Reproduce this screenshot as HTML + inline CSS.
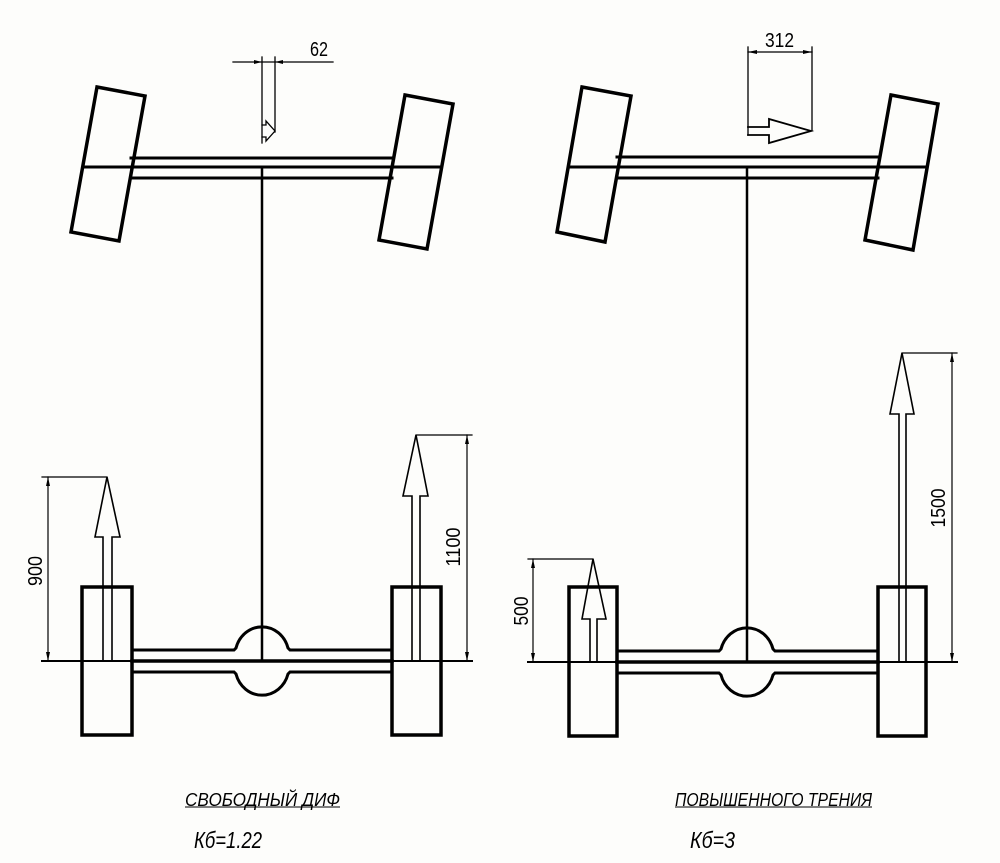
<!DOCTYPE html>
<html><head><meta charset="utf-8"><style>
html,body{margin:0;padding:0;background:#fdfdfb;}
svg{display:block;}
text{font-family:"Liberation Sans",sans-serif;fill:#000;}
</style></head><body>
<svg width="1000" height="863" viewBox="0 0 1000 863" xmlns="http://www.w3.org/2000/svg">
<rect width="1000" height="863" fill="#fdfdfb"/>
<g stroke="#000" fill="none" stroke-linecap="square">
<polygon points="97,87 145,96 119,241 71,232" stroke-width="3.5"/>
<polygon points="405,95 453,104 427,249 379,240" stroke-width="3.5"/>
<line x1="131" y1="158" x2="392" y2="158" stroke-width="3"/>
<line x1="83" y1="167" x2="440" y2="167" stroke-width="3"/>
<line x1="131" y1="178" x2="392" y2="178" stroke-width="3"/>
<line x1="262" y1="167" x2="262" y2="661" stroke-width="2.5"/>
<g stroke-width="1.3">
<line x1="262" y1="57" x2="262" y2="143"/>
<line x1="275" y1="57" x2="275" y2="132"/>
<line x1="233" y1="62" x2="333" y2="62"/>
<polyline points="262,125 266,125 266,121 275,131 266,141 266,137 262,137"/>
</g>
<polygon points="262,62 254,60 254,64" fill="#000" stroke="none"/>
<polygon points="275,62 283,60 283,64" fill="#000" stroke="none"/>
<rect x="82" y="587" width="50" height="148" stroke-width="3.5"/>
<rect x="392" y="587" width="49" height="148" stroke-width="3.5"/>
<path d="M132,650 H234 L236,648 A27,29 0 0 1 288,648 L290,650 H392" stroke-width="3"/>
<path d="M132,672 H234 L236,674 A27,29 0 0 0 288,674 L290,672 H392" stroke-width="3"/>
<line x1="42" y1="661" x2="472" y2="661" stroke-width="2"/>
<line x1="132" y1="661" x2="392" y2="661" stroke-width="3.5"/>
<g stroke-width="1.6">
<polyline points="103,661 103,537 95,537 107,477 120,537 112,537 112,661"/>
<polyline points="412,661 412,496 403,496 416,435 428,496 420,496 420,661"/>
</g>
<g stroke-width="1.2">
<line x1="42" y1="477" x2="107" y2="477"/>
<line x1="48" y1="477" x2="48" y2="661"/>
<line x1="416" y1="435" x2="472" y2="435"/>
<line x1="467" y1="435" x2="467" y2="661"/>
</g>
<polygon points="582,87 631,96 605,242 557,232" stroke-width="3.5"/>
<polygon points="891,95 938,104 913,250 865,240" stroke-width="3.5"/>
<line x1="617" y1="157" x2="878" y2="157" stroke-width="3"/>
<line x1="569" y1="167" x2="927" y2="167" stroke-width="3"/>
<line x1="617" y1="178" x2="878" y2="178" stroke-width="3"/>
<line x1="747" y1="167" x2="747" y2="662" stroke-width="2.5"/>
<g stroke-width="1.3">
<line x1="748" y1="47" x2="748" y2="135"/>
<line x1="812" y1="47" x2="812" y2="130"/>
<line x1="748" y1="52" x2="812" y2="52"/>
</g>
<polyline points="748,127 769,127 769,119 811,131 769,143 769,135 748,135" stroke-width="1.8"/>
<polygon points="748,52 757,50 757,54" fill="#000" stroke="none"/>
<polygon points="812,52 803,50 803,54" fill="#000" stroke="none"/>
<rect x="569" y="587" width="48" height="149" stroke-width="3.5"/>
<rect x="878" y="587" width="48" height="149" stroke-width="3.5"/>
<path d="M617,651 H719 L721,649 A27,29 0 0 1 773,649 L775,651 H878" stroke-width="3"/>
<path d="M617,673 H719 L721,675 A27,29 0 0 0 773,675 L775,673 H878" stroke-width="3"/>
<line x1="528" y1="662" x2="957" y2="662" stroke-width="2"/>
<line x1="617" y1="662" x2="878" y2="662" stroke-width="3.5"/>
<g stroke-width="1.6">
<polyline points="590,662 590,619 582,619 593,559 606,619 597,619 597,662"/>
<polyline points="899,662 899,414 890,414 902,353 914,414 906,414 906,662"/>
</g>
<g stroke-width="1.2">
<line x1="528" y1="559" x2="593" y2="559"/>
<line x1="533" y1="559" x2="533" y2="662"/>
<line x1="902" y1="353" x2="957" y2="353"/>
<line x1="952" y1="353" x2="952" y2="662"/>
</g>
</g>
<g fill="#000">
<polygon points="48,477 46,486 50,486"/><polygon points="48,661 46,652 50,652"/>
<polygon points="467,435 465,444 469,444"/><polygon points="467,661 465,652 469,652"/>
<polygon points="533,559 531,568 535,568"/><polygon points="533,662 531,653 535,653"/>
<polygon points="952,353 950,362 954,362"/><polygon points="952,662 950,653 954,653"/>
</g>
<g font-size="20">
<text x="310" y="56" textLength="18" lengthAdjust="spacingAndGlyphs">62</text>
<text x="765" y="47" textLength="29" lengthAdjust="spacingAndGlyphs">312</text>
<text transform="translate(42,571) rotate(-90)" text-anchor="middle" textLength="30" lengthAdjust="spacingAndGlyphs">900</text>
<text transform="translate(460,547) rotate(-90)" text-anchor="middle" textLength="39" lengthAdjust="spacingAndGlyphs">1100</text>
<text transform="translate(528,611) rotate(-90)" text-anchor="middle" textLength="29" lengthAdjust="spacingAndGlyphs">500</text>
<text transform="translate(945,508) rotate(-90)" text-anchor="middle" textLength="39" lengthAdjust="spacingAndGlyphs">1500</text>
</g>
<g font-style="italic">
<text x="185" y="806" font-size="18" textLength="155" lengthAdjust="spacingAndGlyphs">СВОБОДНЫЙ ДИФ</text>
<text x="675" y="806" font-size="18" textLength="197" lengthAdjust="spacingAndGlyphs">ПОВЫШЕННОГО ТРЕНИЯ</text>
<text x="194" y="848" font-size="23" textLength="68" lengthAdjust="spacingAndGlyphs">Кб=1.22</text>
<text x="690" y="848" font-size="23" textLength="45" lengthAdjust="spacingAndGlyphs">Кб=3</text>
</g>
<line x1="185" y1="807" x2="340" y2="807" stroke="#000" stroke-width="1"/>
<line x1="675" y1="807" x2="872" y2="807" stroke="#000" stroke-width="1"/>
</svg>
</body></html>
